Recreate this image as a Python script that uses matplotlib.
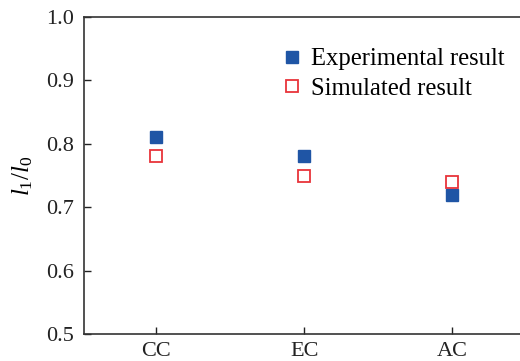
import matplotlib
matplotlib.use("Agg")
import matplotlib.pyplot as plt

categories = ["CC", "EC", "AC"]
experimental = [0.81, 0.78, 0.72]
simulated = [0.78, 0.75, 0.74]

plt.rcParams['font.family'] = ['Liberation Serif', 'DejaVu Serif']
plt.rcParams['mathtext.fontset'] = 'custom'
plt.rcParams['mathtext.rm'] = 'Liberation Serif'
plt.rcParams['mathtext.it'] = 'Liberation Serif:italic'

fig = plt.figure(figsize=(5.2, 3.61), dpi=100)
W, H = 520, 361
ax = fig.add_axes([84 / W, (H - 334) / H, 460 / W, 317 / H])

x = list(range(len(categories)))
ax.plot(x, experimental, 's', color='#1f55a5', ms=9, label='Experimental result', linestyle='none')
ax.plot(x, simulated, 's', mfc='white', mec='#e8343a', mew=1.3, ms=9, label='Simulated result', linestyle='none')

ax.set_xlim(-0.49, 2.62)
ax.set_ylim(0.5, 1.0)
ax.set_xticks(x)
ax.set_xticklabels(categories)
ax.set_yticks([0.5, 0.6, 0.7, 0.8, 0.9, 1.0])
ax.tick_params(direction='in', labelsize=16, length=5, width=1, colors='#222222')
ax.tick_params(axis='x', pad=6)
ax.tick_params(axis='y', pad=7)
for s in ax.spines.values():
    s.set_linewidth(1.2)
    s.set_color('#333333')
ax.set_ylabel('$l_1/l_0$', fontsize=18, labelpad=8)

leg = ax.legend(loc='center left', bbox_to_anchor=(0.405, 0.82), frameon=False, fontsize=17.7,
                handletextpad=0.25, handlelength=1.0, labelspacing=0.3, borderaxespad=0)

fig.savefig('out.png', dpi=100)
